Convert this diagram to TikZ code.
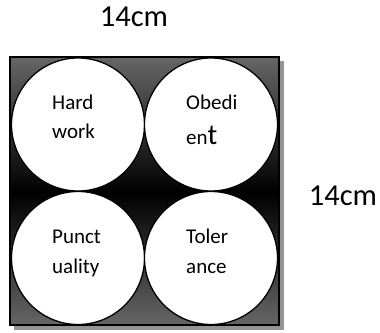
\documentclass[tikz,border=0pt]{standalone}
\usepackage{fontspec}
\setmainfont{Carlito}
\begin{document}
\begin{tikzpicture}[x=1pt,y=1pt,
  disc/.style={circle, draw=black, line width=1.3pt, fill=white, minimum size=133pt, inner sep=0pt},
  word/.style={anchor=base west, inner sep=0pt, font=\fontsize{21}{21}\selectfont},
  dimlabel/.style={anchor=base, inner sep=0pt, font=\fontsize{30.5}{31}\selectfont}]
\useasboundingbox (0,0) rectangle (380,332);
% drop shadow of the square
\fill[black!42] (14,2) rectangle (284,271);
% two gradient halves meeting at the middle
\shade[top color=black!60, bottom color=black] (10,139) rectangle (279,275);
\shade[top color=black, bottom color=black!60] (10,7) rectangle (279,139);
\draw[line width=2.2pt] (10,7) rectangle (279,275);
% four circles
\node[disc] (c1) at (78,207.5) {};
\node[disc] (c2) at (211,207.5) {};
\node[disc] (c3) at (78,74) {};
\node[disc] (c4) at (211,74) {};
% labels inside the circles
\node[word] (t1a) at (52,222) {Hard};
\node[word] (t1b) at (52,193) {work};
\node[word] (t2a) at (186,222) {Obedi};
\node[word] (t2b) at (186,187) {en{\fontsize{29}{29}\selectfont t}};
\node[word] (t3a) at (52,88) {Punct};
\node[word] (t3b) at (52,58) {uality};
\node[word] (t4a) at (186,88) {Toler};
\node[word] (t4b) at (186,58) {ance};
% dimensions
\node[dimlabel] (w) at (134,305) {14cm};
\node[dimlabel] (h) at (343,126) {14cm};
\end{tikzpicture}
\end{document}
